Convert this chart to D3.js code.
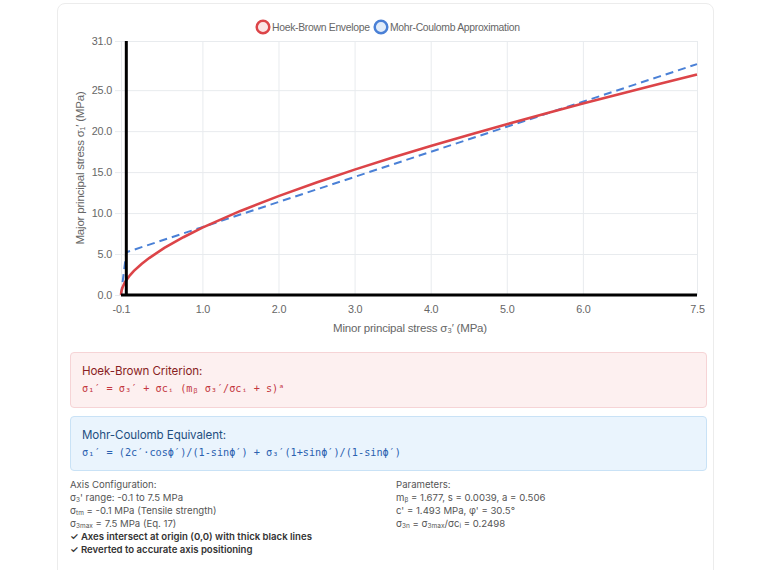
<!DOCTYPE html>
<html>
<head>
<meta charset="utf-8">
<script src="https://cdn.jsdelivr.net/npm/d3@7/dist/d3.min.js"></script>
<style>
  html, body { margin: 0; padding: 0; background: #fff; width: 768px; height: 570px; overflow: hidden; }
  #card { position: absolute; left: 57px; top: 3px; width: 655px; height: 580px; border: 1px solid #ececec; border-radius: 8px; background: #fff; }
  svg { position: absolute; left: 0; top: 0; }
  .box { position: absolute; left: 70px; width: 637px; border-radius: 4px; box-sizing: border-box; padding: 11px 11px; font-family: Inter, "Noto Sans", sans-serif; }
  .box .t { font-size: 11.6px; margin-bottom: 5px; letter-spacing: -0.1px; }
  .box .f { font-family: "DejaVu Sans Mono", "Liberation Mono", monospace; font-size: 10.2px; }
  #hb { top: 352px; height: 56px; background: #fdf0f0; border: 1px solid #f6d4d6; }
  #hb .t { color: #8a1f24; }
  #hb .f { color: #c4373f; }
  #mc { top: 416px; height: 55px; background: #eaf4fd; border: 1px solid #c9e2f6; }
  #mc .t { color: #1f4f80; }
  #mc .f { color: #2b61b0; }
  .col { position: absolute; top: 479px; font-family: Inter, "Noto Sans", sans-serif; font-size: 9.6px; color: #555; line-height: 12.9px; }
  .col b { color: #333; font-weight: 600; }
  sub { font-size: 6.5px; vertical-align: -1px; line-height: 0; }
</style>
</head>
<body>
<div id="card"></div>
<svg id="chart" width="768" height="345"></svg>
<div class="box" id="hb"><div class="t">Hoek-Brown Criterion:</div><div class="f">σ₁′ = σ₃′ + σcᵢ (mᵦ σ₃′/σcᵢ + s)ᵃ</div></div>
<div class="box" id="mc"><div class="t">Mohr-Coulomb Equivalent:</div><div class="f">σ₁′ = (2c′·cosϕ′)/(1-sinϕ′) + σ₃′(1+sinϕ′)/(1-sinϕ′)</div></div>
<div class="col" style="left:70px">
Axis Configuration:<br>
σ<sub>3</sub>' range: -0.1 to 7.5 MPa<br>
σ<sub>tm</sub> = -0.1 MPa (Tensile strength)<br>
σ<sub>3max</sub> = 7.5 MPa (Eq. 17)<br>
<b>✓ Axes intersect at origin (0,0) with thick black lines</b><br>
<b>✓ Reverted to accurate axis positioning</b>
</div>
<div class="col" style="left:396px">
Parameters:<br>
m<sub>β</sub> = 1.677, s = 0.0039, a = 0.506<br>
c' = 1.493 MPa, φ' = 30.5°<br>
σ<sub>3n</sub> = σ<sub>3max</sub>/σc<sub>i</sub> = 0.2498
</div>
<script>
// ---- data ----
const hbSigma3 = [-0.0698, -0.065, -0.06, -0.05, -0.04, -0.03, -0.02, -0.01, 0, 0.05, 0.1, 0.2, 0.3, 0.5, 0.75, 1.0, 1.5, 2.0, 2.5, 3.0, 3.5, 4.0, 4.5, 5.0, 5.5, 6.0, 6.5, 7.0, 7.5];
const hbSigma1 = [0.0, 0.40, 0.61, 0.91, 1.14, 1.33, 1.51, 1.67, 1.81, 2.43, 2.94, 3.79, 4.51, 5.74, 7.05, 8.22, 10.26, 12.07, 13.74, 15.30, 16.77, 18.18, 19.54, 20.85, 22.12, 23.36, 24.57, 25.75, 26.92];
const mcSigma3 = [-0.0698, 0, 1.0, 2.0, 3.0, 4.0, 5.0, 6.0, 7.0, 7.5];
const mcSigma1 = [0.0, 5.22, 8.29, 11.35, 14.41, 17.47, 20.53, 23.59, 26.65, 28.18];
const xTicks = [-0.0698, 1, 2, 3, 4, 5, 6, 7.5];
const yTicks = [0, 5, 10, 15, 20, 25, 31];
const seriesNames = ["Hoek-Brown Envelope", "Mohr-Coulomb Approximation"];

const svg = d3.select("#chart");
const x = d3.scaleLinear().domain([-0.0698, 7.5]).range([121, 697]);
const y = d3.scaleLinear().domain([0, 31]).range([295, 41]);
const font = "'Liberation Sans', Arial, sans-serif";

// grid
const gx = svg.append("g").attr("transform", "translate(0,295)")
  .call(d3.axisBottom(x).tickValues(xTicks).tickFormat(d => d.toFixed(1)).tickSize(-254).tickPadding(10));
const gy = svg.append("g").attr("transform", "translate(121,0)")
  .call(d3.axisLeft(y).tickValues(yTicks).tickFormat(d => d.toFixed(1)).tickSize(-576).tickPadding(9));
[gx, gy].forEach(g => {
  g.select(".domain").remove();
  g.selectAll(".tick line").attr("stroke", "#e8ebee").attr("stroke-width", 1);
  g.selectAll(".tick text").attr("fill", "#666").attr("font-family", font).attr("font-size", 10.8).attr("letter-spacing", -0.2);
});
gy.selectAll(".tick").append("line").attr("x1", -6).attr("x2", 0).attr("stroke", "#e8ebee");

// axis titles
svg.append("text").attr("x", 410).attr("y", 332).attr("text-anchor", "middle")
  .attr("fill", "#666").attr("font-family", font).attr("font-size", 11.5).attr("letter-spacing", -0.2)
  .text("Minor principal stress σ₃′ (MPa)");
svg.append("text").attr("transform", "translate(84,168) rotate(-90)").attr("text-anchor", "middle")
  .attr("fill", "#666").attr("font-family", font).attr("font-size", 11.5).attr("letter-spacing", -0.2)
  .text("Major principal stress σ₁′ (MPa)");

// lines
const line = d3.line().x(d => x(d[0])).y(d => y(d[1]));
const hb = hbSigma3.map((s, i) => [s, hbSigma1[i]]);
const mc = mcSigma3.map((s, i) => [s, mcSigma1[i]]);
svg.append("path").datum(mc).attr("d", line).attr("fill", "none")
  .attr("stroke", "#4a80d6").attr("stroke-width", 2).attr("stroke-dasharray", "8,5");
svg.append("path").datum(hb).attr("d", line).attr("fill", "none")
  .attr("stroke", "#dc4448").attr("stroke-width", 2.6);

// thick axes at origin
svg.append("line").attr("x1", x(0)).attr("x2", x(0)).attr("y1", y(31)).attr("y2", y(0))
  .attr("stroke", "#000").attr("stroke-width", 3);
svg.append("line").attr("x1", x.range()[0]).attr("x2", x.range()[1]).attr("y1", y(0)).attr("y2", y(0))
  .attr("stroke", "#000").attr("stroke-width", 3);

// legend
const legend = [
  { name: seriesNames[0], stroke: "#dc4448", fill: "#fbe3e4", cx: 263, tx: 272 },
  { name: seriesNames[1], stroke: "#4a80d6", fill: "#e1ecfa", cx: 381, tx: 390 }
];
legend.forEach(l => {
  svg.append("circle").attr("cx", l.cx).attr("cy", 27).attr("r", 6.3)
    .attr("fill", l.fill).attr("stroke", l.stroke).attr("stroke-width", 2.5);
  svg.append("text").attr("x", l.tx).attr("y", 31).attr("fill", "#666")
    .attr("font-family", font).attr("font-size", 10.4).attr("letter-spacing", -0.3).text(l.name);
});
</script>
</body>
</html>
